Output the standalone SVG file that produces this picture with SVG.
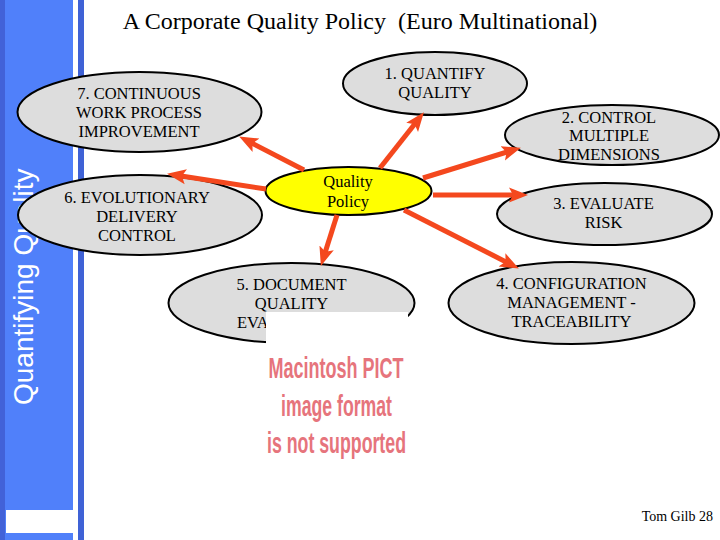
<svg xmlns="http://www.w3.org/2000/svg" width="720" height="540" viewBox="0 0 720 540">
<style>
.nd{fill:#dddddd;stroke:#000;stroke-width:2}
.qp{fill:#ffff00;stroke:#000;stroke-width:2}
.t{font-family:"Liberation Serif","Times New Roman",serif;font-size:16.5px;fill:#000;text-anchor:middle}
.ar{stroke:#f4481e;stroke-width:5;fill:none;marker-end:url(#ah)}
</style>
<defs>
<marker id="ah" markerUnits="userSpaceOnUse" markerWidth="20" markerHeight="18" viewBox="0 -8 20 16" refX="8" refY="0" orient="auto">
<path d="M0,-7.5 L19,0 L0,7.5 L4,0 Z" fill="#f4481e"/>
</marker>
</defs>
<rect width="720" height="540" fill="#fff"/>
<g id="sidebar">
<rect x="0" y="0" width="5" height="540" fill="#4262d8"/>
<rect x="5" y="0" width="68" height="540" fill="#5080fa"/>
<rect x="6" y="510" width="67" height="23" fill="#fff"/>
<rect x="78" y="0" width="6" height="540" fill="#3f62d6"/>
<text transform="translate(33,405) rotate(-90)" font-family="'Liberation Sans',Arial,sans-serif" font-size="28" fill="#fff">Quantifying Quality</text>
</g>
<text id="title" x="360" y="29" xml:space="preserve" font-family="'Liberation Serif','Times New Roman',serif" font-size="24" text-anchor="middle" fill="#000">A Corporate Quality Policy  (Euro Multinational)</text>
<g id="n7"><ellipse class="nd" cx="139.5" cy="112" rx="122" ry="40"/>
<text class="t" x="139" y="99">7. CONTINUOUS</text><text class="t" x="139" y="118">WORK PROCESS</text><text class="t" x="139" y="137">IMPROVEMENT</text></g>
<g id="n6"><ellipse class="nd" cx="140" cy="215" rx="122" ry="40"/>
<text class="t" x="137" y="203">6. EVOLUTIONARY</text><text class="t" x="137" y="222">DELIVERY</text><text class="t" x="137" y="241">CONTROL</text></g>
<g id="n1"><ellipse class="nd" cx="435" cy="83.5" rx="92" ry="31.5"/>
<text class="t" x="435" y="79">1. QUANTIFY</text><text class="t" x="435" y="98">QUALITY</text></g>
<g id="n2"><ellipse class="nd" cx="612" cy="135" rx="107" ry="30"/>
<text class="t" x="609" y="123">2. CONTROL</text><text class="t" x="609" y="141">MULTIPLE</text><text class="t" x="609" y="160">DIMENSIONS</text></g>
<g id="n3"><ellipse class="nd" cx="604.5" cy="214" rx="107.5" ry="31"/>
<text class="t" x="603.5" y="209">3. EVALUATE</text><text class="t" x="603.5" y="228">RISK</text></g>
<g id="n4"><ellipse class="nd" cx="571.5" cy="303" rx="123" ry="41"/>
<text class="t" x="571.5" y="289">4. CONFIGURATION</text><text class="t" x="571.5" y="308">MANAGEMENT -</text><text class="t" x="571.5" y="327">TRACEABILITY</text></g>
<g id="n5"><ellipse class="nd" cx="291.5" cy="303" rx="123" ry="40"/>
<text class="t" x="291.5" y="290">5. DOCUMENT</text><text class="t" x="291.5" y="309">QUALITY</text><text class="t" x="237" y="328" style="text-anchor:start">EVA</text></g>
<g id="qp"><ellipse class="qp" cx="348.5" cy="191" rx="83" ry="24"/>
<text class="t" x="348" y="187">Quality</text><text class="t" x="348" y="207">Policy</text></g>
<g id="connectors">
<line class="ar" x1="304" y1="170" x2="248.9" y2="141.6"/>
<line class="ar" x1="266" y1="189" x2="177.9" y2="175.5"/>
<line class="ar" x1="380" y1="168" x2="417.1" y2="121"/>
<line class="ar" x1="423" y1="178" x2="510.4" y2="151"/>
<line class="ar" x1="433" y1="195" x2="517" y2="195"/>
<line class="ar" x1="404" y1="210" x2="509.1" y2="263.5"/>
<line class="ar" x1="337" y1="215" x2="324.2" y2="255.5"/>
</g>
<g id="pict">
<rect x="266" y="312" width="142" height="153" fill="#fff"/>
<g font-family="'Liberation Sans',Arial,sans-serif" font-size="29" font-weight="bold" fill="#e6747c" text-anchor="middle">
<text x="336" y="378" textLength="135" lengthAdjust="spacingAndGlyphs">Macintosh PICT</text>
<text x="336.5" y="416" textLength="111" lengthAdjust="spacingAndGlyphs">image format</text>
<text x="336.5" y="453" textLength="139" lengthAdjust="spacingAndGlyphs">is not supported</text>
</g>
</g>
<text id="footer" x="713" y="521" font-family="'Liberation Serif','Times New Roman',serif" font-size="14" text-anchor="end" fill="#000">Tom Gilb 28</text>
</svg>
